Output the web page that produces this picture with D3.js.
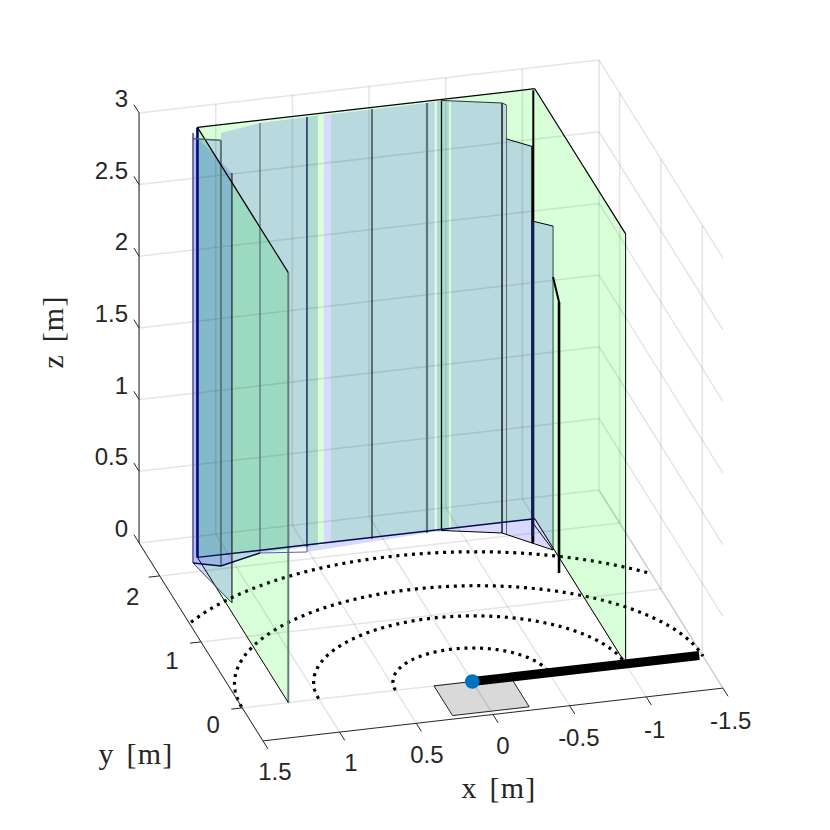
<!DOCTYPE html>
<html><head><meta charset="utf-8">
<script src="https://cdn.jsdelivr.net/npm/d3@7"></script>
<style>html,body{margin:0;background:#fff}svg{display:block}</style></head>
<body><svg id="c" width="830" height="830"></svg>
<script>
// ---------- data (metres) ----------
const xTicks=[1.5,1,0.5,0,-0.5,-1,-1.5];
const xTickLabels=["1.5","1","0.5","0","-0.5","-1","-1.5"];
const yTicks=[0,1,2];
const yTickLabels=["0","1","2"];
const zTicks=[0,0.5,1,1.5,2,2.5,3];
const zTickLabels=["0","0.5","1","1.5","2","2.5","3"];
const ringRadii=[0.5,1,1.5,2];
const ringDepths=[0.49,0.96,1.40,1.90];
const ringSkew=[0.008,0.015,0.022,0.03];
const greenX=[-1,1.2], greenY=[0,2.2], greenZ=[0,3];
const barEndX=-1.48;
const footprintX=[-0.25,0.25], footprintY=[-0.45,0];
// measured obstacle contour, plan coordinates
const A=[1.2485,2.128],B=[1.0896,2.041],C=[0.8027,2.161],D=[0.4938,2.170],D2=[0.5128,2.099],
      M=[0.0677,2.177],E=[-0.2898,2.173],F=[-0.3876,2.185],H=[-0.7463,2.051],H2=[-0.766,2.015],
      I=[-0.9708,2.158],J=[-0.992,1.728],K=[1.1635,1.4997],L=[-0.9408,1.393];
const obstacleBody=[[...A,2.96],[...B,2.97],[...B,3.02],[...C,3],[...D,3],[...E,3],[...F,3],[...H,3],[...H2,3],
      [...H2,2.763],[...I,2.62],[...I,2.10],[...J,2.26],[...J,0],[...H,0],[...F,0],[...E,0],[...D2,0],[...D,0],[...C,0],[...B,0],[...A,0]];
const obstacleSide=[[...A,0],[...K,0],[...K,3],[...A,3]];
const stripWallY=2.17;
const strips=[[0.494,0.422,"a"],[0.422,0.383,"g"],[0.383,0.337,"b"],[-0.335,-0.341,"b"],[-0.341,-0.354,"g"],[-0.354,-0.432,"a"],[-0.432,-0.445,"g"]];
const posts=[
 [...A,0,3,"p1"],[1.2,2.2,0,3,"p2"],[...B,0,2.97,"p3"],[...K,0,3,"p4"],[...C,0,3,"p5"],[1.2,0,0,3,"p6"],
 [...D,0,3,"p7"],[...M,0,3,"p8"],[...E,0,3,"p9"],[...F,0,3,"p10"],[...H,0,3,"p10"],[...H2,0,3,"p11"],
 [-0.985,2.18,-0.15,3,"p12"],[-0.975,2.16,-0.15,2.62,"p15"],[-0.975,2.16,-0.1,2.1,"p13"],[...J,0,2.26,"p14"],[...L,0,1.89,"p16"],[-1,0,0,3,"p4"]];
const edges=[
 [[[1.2,2.2,3],[1.2,0,3]],"e1"],[[[1.2,2.2,3],[-1,2.2,3]],"e1"],[[[-1,2.2,3],[-1,0,3]],"e1"],
 [[[1.2,2.2,0],[1.2,0,0]],"e2"],[[[1.2,2.2,0],[-1,2.2,0]],"e3"],[[[-1,2.2,0],[-1,0,0]],"e2"],
 [[[...F,3],[...H,3],[...H2,3]],"e7"],[[[...H2,2.763],[...I,2.62]],"e2"],[[[...I,2.10],[...J,2.26]],"e2"],
 [[[...A,2.96],[...B,2.97]],"e4"],
 [[[...A,0],[...B,0],[...C,0]],"e3"],
 [[[...C,0],[...D2,0],[...D,0]],"e8"],
 [[[...F,0],[...H,0],[...J,0],[...I,0]],"e2"],
 [[[...A,0],[...K,0]],"e5"],
 [[[...J,1.905],[...L,1.89]],"e6"]];

// ---------- styles ----------
const stripFill={a:"#aedcd0",g:"#d9ffd9",b:"#d9d9ff"};
const postStyle={p1:["#6f7a9c",2],p2:["#000a78",2.6],p3:["#5a7878",2],p4:["#000",1],p5:["#46585a",1],p6:["#667f70",2],
 p7:["#1a2a70",1.5],p8:["#000",1],p9:["#5f7478",2.2],p10:["#000",1.3],p11:["#5a6a70",1],p12:["#000",2],p13:["#10205a",2.6],p14:["#5e8a74",1.6],p15:["#000",2.6],p16:["#000",2.6]};
const edgeStyle={e1:["#000",1.2],e2:["#000",1],e3:["#05084a",1.4],e4:["#56626a",1.6],e5:["#3a3f6a",1],e6:["#000",2],e7:["#333",1],e8:["#5a5ab8",1]};
const ink="#262626", gridCol="rgba(38,38,38,0.12)";

// ---------- projection (orthographic view) ----------
const xRange=[-1.5,1.5],yRange=[-0.5,2.5],zRange=[0,3];
const sxX=d3.scaleLinear(xRange,[230,-230]), sxY=d3.scaleLinear(yRange,[20.65,-103.25]);
const syX=d3.scaleLinear(xRange,[-26.4,26.4]), syY=d3.scaleLinear(yRange,[33,-165]), syZ=d3.scaleLinear(zRange,[0,-430]);
const P=([x,y,z=0])=>[472.3+sxX(x)+sxY(y),681.5+syX(x)+syY(y)+syZ(z)];
const line=d3.line(), path=pts=>line(pts.map(P));
const closed=pts=>path(pts)+"Z";
const svg=d3.select("#c");
const seg=(g,pts,c,w,extra={})=>{const s=g.append("path").attr("d",path(pts)).attr("fill","none").attr("stroke",c).attr("stroke-width",w);
  Object.entries(extra).forEach(([k,v])=>s.attr(k,v));return s;};

// footprint
svg.append("path").attr("d",closed([[footprintX[0],footprintY[0]],[footprintX[1],footprintY[0]],[footprintX[1],footprintY[1]],[footprintX[0],footprintY[1]]]))
 .attr("fill","#d9d9d9").attr("stroke","#222").attr("stroke-width",1);

// range rings
const gRings=svg.append("g");
ringRadii.forEach((r,i)=>{
  const pts=d3.range(0,Math.PI+0.001,Math.PI/240).map(a=>[r*Math.cos(a),ringDepths[i]*Math.sin(a)+ringSkew[i]*Math.cos(a)*(r/2)])
    .filter(p=>Math.abs(p[0])<=1.5);
  seg(gRings,pts,"#000",3.2,{"stroke-dasharray":"3 4.8"});
});

// translucent faces
const gFaces=svg.append("g");
const green="#00ff00", blue="#0000ff", alpha=0.15;
[[[greenX[1],greenY[1],0],[greenX[1],greenY[0],0],[greenX[1],greenY[0],3],[greenX[1],greenY[1],3]],
 [[greenX[0],greenY[1],0],[greenX[1],greenY[1],0],[greenX[1],greenY[1],3],[greenX[0],greenY[1],3]],
 [[greenX[0],greenY[1],0],[greenX[0],greenY[0],0],[greenX[0],greenY[0],3],[greenX[0],greenY[1],3]]]
 .forEach(f=>gFaces.append("path").attr("d",closed(f)).attr("fill",green).attr("fill-opacity",alpha));
[obstacleBody,obstacleSide].forEach(f=>gFaces.append("path").attr("d",closed(f)).attr("fill",blue).attr("fill-opacity",alpha));
strips.forEach(([a,b,k])=>gFaces.append("path").attr("d",closed([[a,stripWallY,0],[b,stripWallY,0],[b,stripWallY,3],[a,stripWallY,3]])).attr("fill",stripFill[k]));

// grid
const gGrid=svg.append("g");
const G=(pts)=>seg(gGrid,pts,gridCol,1.5);
const [x0,x1]=xRange,[y0,y1]=yRange,[z0,z1]=zRange;
xTicks.forEach(x=>{G([[x,y0,0],[x,y1,0]]);G([[x,y1,0],[x,y1,3]]);});
yTicks.forEach(y=>{G([[x0,y,0],[x1,y,0]]);G([[x0,y,0],[x0,y,3]]);});
zTicks.forEach(z=>{G([[x1,y1,z],[x0,y1,z]]);G([[x0,y1,z],[x0,y0,z]]);});

// wall posts and edges
const gEdges=svg.append("g");
posts.forEach(([x,y,a,b,k])=>seg(gEdges,[[x,y,a],[x,y,b]],...postStyle[k]));
edges.forEach(([pts,k])=>seg(gEdges,pts,...edgeStyle[k]));

// arm and base marker
seg(svg,[[0,0],[barEndX,0]],"#000",9);
svg.append("circle").datum(P([0,0])).attr("cx",d=>d[0]).attr("cy",d=>d[1]).attr("r",7.3).attr("fill","#0072BD");

// axes
const gAxes=svg.append("g");
const tickLen={x:0.125,y:0.072,z:0.125};
seg(gAxes,[[x1,y0,0],[x0,y0,0]],ink,1);
seg(gAxes,[[x1,y0,0],[x1,y1,0]],ink,1);
seg(gAxes,[[x1,y1,0],[x1,y1,3]],ink,1);
const tf=(s,fs)=>s.attr("font-family","'Liberation Sans',Arial,sans-serif").attr("font-size",fs).attr("fill",ink);
xTicks.forEach((x,i)=>{
  seg(gAxes,[[x,y0,0],[x,y0-tickLen.x,0]],ink,1);
  const [a,b]=P([x,y0,0]);
  tf(gAxes.append("text"),24).attr("x",a+12-i*0.7).attr("y",b+39+i*0.33).attr("text-anchor","middle").text(xTickLabels[i]);
});
yTicks.forEach((y,i)=>{
  seg(gAxes,[[x1,y,0],[x1+tickLen.y,y,0]],ink,1);
  const [a,b]=P([x1,y,0]);
  tf(gAxes.append("text"),24).attr("x",a-29+(i>1?2:0)).attr("y",b+25+2*i).attr("text-anchor","middle").text(yTickLabels[i]);
});
zTicks.forEach((z,i)=>{
  seg(gAxes,[[x1,y1,z],[x1,y1+tickLen.z,z]],ink,1);
  const [a,b]=P([x1,y1,z]);
  tf(gAxes.append("text"),24).attr("x",a-11).attr("y",b-6).attr("text-anchor","end").text(zTickLabels[i]);
});
const lf=s=>s.attr("font-family","'Liberation Serif','Times New Roman',serif").attr("font-size",30).attr("fill",ink).attr("text-anchor","middle").attr("letter-spacing",1.2).attr("word-spacing",3);
lf(gAxes.append("text")).attr("x",499).attr("y",798).text("x [m]");
lf(gAxes.append("text")).attr("x",136).attr("y",764).text("y [m]");
lf(gAxes.append("text")).attr("transform","translate(63,332) rotate(-90)").text("z [m]");
</script></body></html>
